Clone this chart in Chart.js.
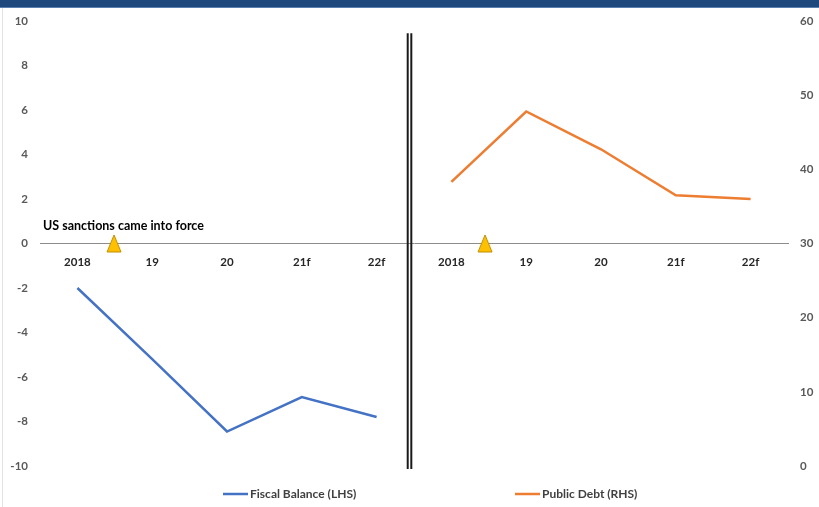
<!DOCTYPE html>
<html>
<head>
<meta charset="utf-8">
<script src="https://cdn.jsdelivr.net/npm/chart.js@4"></script>
<style>
  html, body { margin: 0; padding: 0; background: #fff; }
  #wrap { width: 819px; height: 507px; position: relative; }
</style>
</head>
<body>
<div id="wrap"><canvas id="c" width="819" height="507"></canvas></div>
<script>
// Two panels on one shared category axis: fiscal balance (% of GDP, left) and public debt (% of GDP, right)
const categories = ['2018', '19', '20', '21f', '22f', '2018', '19', '20', '21f', '22f'];
const fiscalBalance = [-2.0, -5.2, -8.45, -6.9, -7.8];   // first panel, LHS
const publicDebt = [38.3, 47.8, 42.7, 36.5, 36.0];       // second panel, RHS
const leftTicks = [-10, -8, -6, -4, -2, 0, 2, 4, 6, 8, 10];
const rightTicks = [0, 10, 20, 30, 40, 50, 60];
const sanctionMarks = [0.49, 5.45];                      // when the US sanctions took effect, per panel
const panelDivider = 4.44;
const noteText = 'US sanctions came into force';
const seriesNames = ['Fiscal Balance (LHS)', 'Public Debt (RHS)'];

const BLUE = '#4472C4';
const ORANGE = '#ED7D31';
const FONT = 'Lato, "Open Sans", sans-serif';

function makeTriangle() {
  const c = document.createElement('canvas');
  c.width = 16; c.height = 19;
  const g = c.getContext('2d');
  g.beginPath();
  g.moveTo(8, 1);
  g.lineTo(15, 18);
  g.lineTo(1, 18);
  g.closePath();
  g.fillStyle = '#FFC000';
  g.fill();
  g.strokeStyle = '#BF8F00';
  g.lineWidth = 1;
  g.stroke();
  return c;
}

const framePlugin = {
  id: 'frame',
  beforeDraw(chart) {
    const ctx = chart.ctx;
    ctx.save();
    ctx.fillStyle = '#1F497D';
    ctx.fillRect(0, 0, chart.width, 7);
    ctx.fillStyle = '#5b7fae';
    ctx.fillRect(0, 7, chart.width, 1);
    ctx.fillStyle = '#e2e2e2';
    ctx.fillRect(2, 8, 1, chart.height - 8);
    ctx.restore();
  }
};

const decorPlugin = {
  id: 'decor',
  afterDatasetsDraw(chart) {
    const {ctx, scales: {x, y}, chartArea} = chart;
    ctx.save();
    // double rule separating the two panels
    const dx = x.getPixelForValue(panelDivider);
    const top = y.getPixelForValue(9.45);
    const bottom = chartArea.bottom + 3;
    ctx.strokeStyle = '#1a1a1a';
    ctx.lineWidth = 2;
    [-1.8, 1.8].forEach(off => {
      ctx.beginPath();
      ctx.moveTo(dx + off, top);
      ctx.lineTo(dx + off, bottom);
      ctx.stroke();
    });
    // note above the first sanction marker
    ctx.fillStyle = '#000';
    ctx.font = 'bold 12.5px ' + FONT;
    ctx.textAlign = 'left';
    ctx.textBaseline = 'middle';
    ctx.fillText(noteText, x.getPixelForValue(-0.5) + 3, y.getPixelForValue(0.8));
    ctx.restore();
  },
  afterDraw(chart) {
    // legend row under the plot
    const {ctx, chartArea} = chart;
    const ly = 494;
    const items = [
      {label: seriesNames[0], color: BLUE, x: chartArea.left + 183},
      {label: seriesNames[1], color: ORANGE, x: chartArea.left + 475}
    ];
    ctx.save();
    ctx.font = 'bold 12px ' + FONT;
    ctx.textAlign = 'left';
    ctx.textBaseline = 'middle';
    items.forEach(it => {
      ctx.strokeStyle = it.color;
      ctx.lineWidth = 2.5;
      ctx.beginPath();
      ctx.moveTo(it.x, ly);
      ctx.lineTo(it.x + 25, ly);
      ctx.stroke();
      ctx.fillStyle = '#404040';
      ctx.fillText(it.label, it.x + 27, ly);
    });
    ctx.restore();
  }
};

new Chart(document.getElementById('c'), {
  type: 'line',
  data: {
    datasets: [
      {
        label: seriesNames[0],
        data: fiscalBalance.map((v, i) => ({x: i, y: v})),
        borderColor: BLUE,
        borderWidth: 2.5,
        pointRadius: 0,
        tension: 0,
        fill: false,
        yAxisID: 'y'
      },
      {
        label: seriesNames[1],
        data: publicDebt.map((v, i) => ({x: i + fiscalBalance.length, y: v})),
        borderColor: ORANGE,
        borderWidth: 2.5,
        pointRadius: 0,
        tension: 0,
        fill: false,
        yAxisID: 'y1'
      },
      {
        label: 'sanctions',
        data: sanctionMarks.map(m => ({x: m, y: 0})),
        showLine: false,
        pointStyle: makeTriangle(),
        pointRadius: 8,
        yAxisID: 'y'
      }
    ]
  },
  options: {
    responsive: false,
    animation: false,
    layout: { padding: { top: 21, bottom: 41, left: 0, right: 0 } },
    plugins: {
      legend: { display: false },
      tooltip: { enabled: false }
    },
    scales: {
      x: {
        type: 'linear',
        min: -0.5,
        max: categories.length - 0.5,
        position: { y: 0 },
        afterBuildTicks: s => { s.ticks = categories.map((_, i) => ({value: i})); },
        ticks: {
          callback: v => categories[v],
          autoSkip: false,
          maxRotation: 0,
          padding: 12,
          color: '#262626',
          font: { family: FONT, size: 11.5, weight: 'bold' }
        },
        grid: { display: false, drawTicks: false },
        border: { display: true, color: '#8c8c8c', width: 1 }
      },
      y: {
        position: 'left',
        min: -10,
        max: 10,
        afterBuildTicks: s => { s.ticks = leftTicks.map(v => ({value: v})); },
        afterFit: s => { s.width = 40; },
        ticks: {
          padding: 12,
          color: '#595959',
          font: { family: FONT, size: 11.5, weight: 'bold' }
        },
        grid: { display: false, drawTicks: false },
        border: { display: false }
      },
      y1: {
        position: 'right',
        min: 0,
        max: 60,
        afterBuildTicks: s => { s.ticks = rightTicks.map(v => ({value: v})); },
        afterFit: s => { s.width = 31; },
        ticks: {
          padding: 12,
          color: '#595959',
          font: { family: FONT, size: 11.5, weight: 'bold' }
        },
        grid: { display: false, drawTicks: false },
        border: { display: false }
      }
    }
  },
  plugins: [framePlugin, decorPlugin]
});
</script>
</body>
</html>
